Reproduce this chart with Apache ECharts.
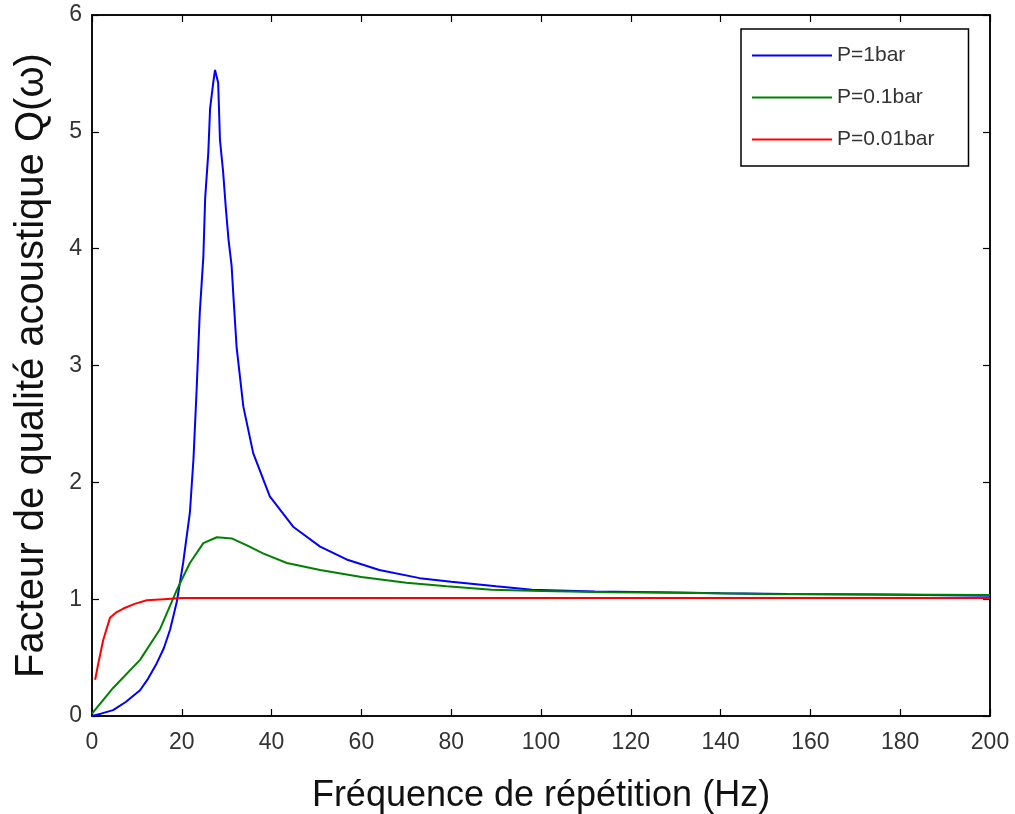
<!DOCTYPE html>
<html>
<head>
<meta charset="utf-8">
<script src="https://cdn.jsdelivr.net/npm/echarts@6/dist/echarts.min.js"></script>
<style>
  html, body {margin: 0; padding: 0; background: #fff;}
  #chart {width: 1015px; height: 814px;}
</style>
</head>
<body>
<div id="chart"></div>
<script>
// values
let xTicks = [0, 20, 40, 60, 80, 100, 120, 140, 160, 180, 200];
let yTicks = [0, 1, 2, 3, 4, 5, 6];

let blueHz = [0, 2, 4.7, 7.5, 10.7, 12.5, 14.4, 16, 17.4, 18.9, 20.3, 21.8, 22.6, 23.3, 24, 24.8, 25.2, 25.9, 26.3, 27, 27.4,
  28.1, 28.5, 29.2, 29.8, 30.4, 31.1, 31.5, 32.2, 33.7, 35.9, 39.6, 44.8, 50.8, 56.7, 64, 73, 80, 90, 98, 112, 126, 140, 155, 175, 200];
let blueQ = [0, 0.02, 0.05, 0.12, 0.22, 0.32, 0.45, 0.58, 0.74, 0.98, 1.31, 1.74, 2.2, 2.79, 3.45, 3.93, 4.43, 4.82, 5.2, 5.42, 5.53,
  5.42, 4.93, 4.66, 4.35, 4.08, 3.85, 3.59, 3.16, 2.65, 2.25, 1.88, 1.62, 1.45, 1.34, 1.25, 1.18, 1.15, 1.11, 1.08, 1.065, 1.06, 1.05, 1.045, 1.04, 1.03];

let greenHz = [0, 4.7, 10.7, 15.1, 18.9, 21.8, 24.8, 27.8, 31.1, 34.5, 38.2, 43.4, 50.8, 60, 70, 79, 89, 100, 115, 131, 150, 175, 200];
let greenQ = [0.02, 0.24, 0.48, 0.74, 1.08, 1.31, 1.48, 1.53, 1.52, 1.46, 1.39, 1.31, 1.25, 1.19, 1.14, 1.11, 1.08, 1.07, 1.06, 1.055, 1.045, 1.04, 1.035];

let redHz = [0.7, 1.4, 2.5, 4, 5.5, 7, 9.5, 12.2, 16, 20, 200];
let redQ = [0.31, 0.45, 0.65, 0.84, 0.89, 0.92, 0.96, 0.99, 1.0, 1.01, 1.01];

let names = ['P=1bar', 'P=0.1bar', 'P=0.01bar'];
let colors = ['#0000ff', '#008000', '#ff0000'];

function pairs(xs, ys) {
  return xs.map(function(x, i){ return [x, ys[i]]; });
}

let font = 'Liberation Sans, Arial, sans-serif';

let chart = echarts.init(document.getElementById('chart'), null, {renderer: 'canvas'});

function frameAxis() {
  return {
    axisLine: {show: true, onZero: false, lineStyle: {color: '#000', width: 1.5}},
    axisTick: {show: true, inside: true, length: 7, lineStyle: {color: '#000', width: 1.2}},
    splitLine: {show: false}
  };
}

let option = {
  animation: false,
  color: colors,
  grid: {left: 92, right: 25, top: 15, bottom: 98, containLabel: false, outerBoundsMode: 'none',
    show: true, borderColor: '#000', borderWidth: 1.5, backgroundColor: 'transparent'},
  legend: {
    data: names,
    orient: 'vertical',
    left: 741,
    top: 29,
    padding: [16, 34, 16, 11],
    icon: 'rect',
    itemWidth: 80,
    itemHeight: 2,
    itemGap: 21,
    backgroundColor: '#fff',
    borderColor: '#000',
    borderWidth: 1.5,
    textStyle: {fontSize: 21, color: '#333', fontFamily: font}
  },
  xAxis: [
    Object.assign({
      type: 'value', min: 0, max: 200, interval: 20, position: 'bottom',
      name: 'Fréquence de répétition (Hz)', nameLocation: 'middle', nameGap: 62,
      nameTextStyle: {fontSize: 36, color: '#111', fontFamily: font},
      axisLabel: {fontSize: 23, color: '#333', margin: 15, fontFamily: font,
        formatter: function(v){ return xTicks.indexOf(v) >= 0 ? String(v) : ''; }}
    }, frameAxis()),
    Object.assign({
      type: 'value', min: 0, max: 200, interval: 20, position: 'top',
      axisLabel: {show: false}
    }, frameAxis())
  ],
  yAxis: [
    Object.assign({
      type: 'value', min: 0, max: 6, interval: 1, position: 'left',
      name: 'Facteur de qualité acoustique Q(ω)', nameLocation: 'middle', nameGap: 40,
      nameTextStyle: {fontSize: 40, color: '#111', fontFamily: font},
      axisLabel: {fontSize: 23, color: '#333', margin: 10, fontFamily: font,
        formatter: function(v){ return yTicks.indexOf(v) >= 0 ? String(v) : ''; }}
    }, frameAxis()),
    Object.assign({
      type: 'value', min: 0, max: 6, interval: 1, position: 'right',
      axisLabel: {show: false}
    }, frameAxis())
  ],
  series: [
    {name: names[0], type: 'line', data: pairs(blueHz, blueQ), symbol: 'none', lineStyle: {width: 2}},
    {name: names[1], type: 'line', data: pairs(greenHz, greenQ), symbol: 'none', lineStyle: {width: 2}},
    {name: names[2], type: 'line', data: pairs(redHz, redQ), symbol: 'none', lineStyle: {width: 2}},
    // empty series so the top / right frame axes get drawn
    {type: 'line', xAxisIndex: 1, yAxisIndex: 1, data: [], silent: true}
  ]
};

chart.setOption(option);
</script>
</body>
</html>
